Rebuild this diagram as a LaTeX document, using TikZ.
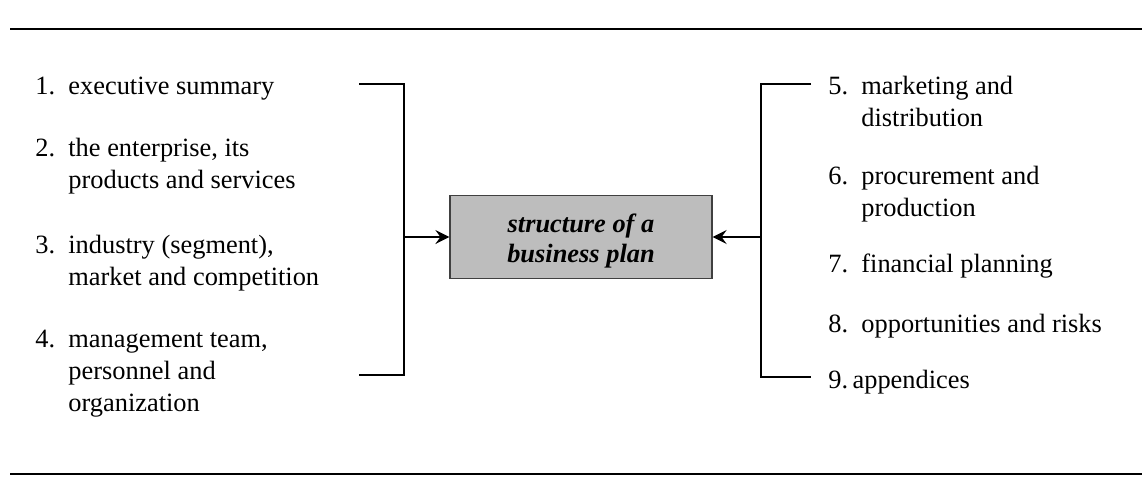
\documentclass[tikz,border=0pt]{standalone}
\usepackage{fontspec}
\setmainfont{Liberation Serif}
\usetikzlibrary{arrows.meta}
\newcommand{\entry}[2]{\makebox[16.5pt][l]{#1}\begin{tabular}[t]{@{}l@{}}#2\end{tabular}}
\tikzset{
  item/.style={anchor=base west, inner sep=0pt, font=\fontsize{13.2}{16}\selectfont},
  planbox/.style={draw=black!75, line width=0.6pt, fill=black!26, minimum width=131pt,
    minimum height=41.5pt},
  plantext/.style={align=center, inner sep=0pt, font=\fontsize{13.2}{15}\selectfont\bfseries\itshape},
  rule/.style={line width=1.25pt},
  link/.style={line width=1pt}
}
\begin{document}
\begin{tikzpicture}[x=0.5pt,y=-0.5pt]
      \useasboundingbox (0,0) rectangle (1142,489);
      \draw[rule] (10,29) -- (1142,29);
      \draw[rule] (10,474) -- (1142,474);
      \node[planbox, label={[plantext, yshift=-2pt]center:structure of a\\business plan}] (plan) at (581,237) {};
      % left items
      \node[item] (i1) at (35,94.5) {\entry{1.}{executive summary}};
      \node[item] (i2) at (35,156) {\entry{2.}{the enterprise, its\\products and services}};
      \node[item] (i3) at (35,253) {\entry{3.}{industry (segment),\\market and competition}};
      \node[item] (i4) at (35,347) {\entry{4.}{management team,\\personnel and\\organization}};
      % right items
      \node[item] (i5) at (828,94) {\entry{5.}{marketing and\\distribution}};
      \node[item] (i6) at (828,184) {\entry{6.}{procurement and\\production}};
      \node[item] (i7) at (828,272) {\entry{7.}{financial planning}};
      \node[item] (i8) at (828,332) {\entry{8.}{opportunities and risks}};
      \node[item] (i9) at (828,388) {9.\,appendices};
      % brackets
      \coordinate (lt) at (359,84);
      \coordinate (lb) at (359,375);
      \coordinate (lj) at (404,237);
      \coordinate (rt) at (811,84);
      \coordinate (rb) at (811,377);
      \coordinate (rj) at (761,237);
      \begin{scope}[link]
        \draw (lt) -| (lj) |- (lb);
        \draw (rt) -| (rj) |- (rb);
        \draw[-{Stealth[length=7pt,width=7pt,inset=2.5pt]}] (lj) -- (plan);
        \draw[-{Stealth[length=7pt,width=7pt,inset=2.5pt]}] (rj) -- (plan);
      \end{scope}
    \end{tikzpicture}
\end{document}
